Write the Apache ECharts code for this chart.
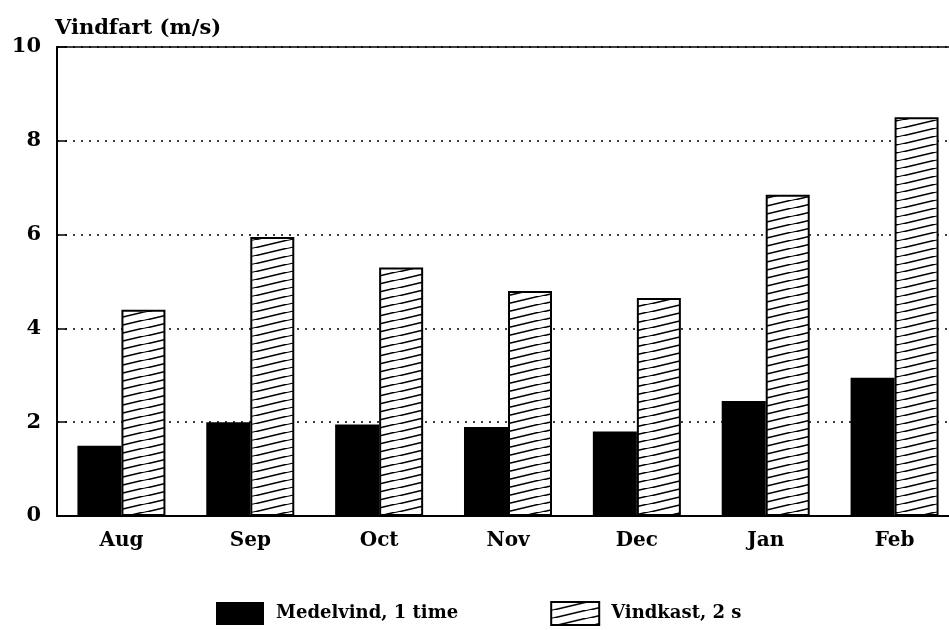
<!DOCTYPE html>
<html>
<head>
<meta charset="utf-8">
<script src="https://cdn.jsdelivr.net/npm/echarts@6/dist/echarts.min.js"></script>
<style>
  html, body { margin: 0; padding: 0; background: #fff; }
  #main { width: 949px; height: 630px; }
</style>
</head>
<body>
<div id="main"></div>
<script>
// data
var months = ['Aug', 'Sep', 'Oct', 'Nov', 'Dec', 'Jan', 'Feb'];
var medelvind = [1.5, 2.0, 1.95, 1.9, 1.8, 2.45, 2.95];
var vindkast = [4.4, 5.95, 5.3, 4.8, 4.65, 6.85, 8.5];
var yTicks = [0, 2, 4, 6, 8, 10];

var font = 'DejaVu Serif';

// hatch pattern: thin rising diagonal lines on white
function makeHatch() {
    var w = 36, h = 8.5;
    var c = document.createElement('canvas');
    c.width = w;
    c.height = h;
    var ctx = c.getContext('2d');
    ctx.fillStyle = '#fff';
    ctx.fillRect(0, 0, w, h);
    ctx.strokeStyle = '#000';
    ctx.lineWidth = 1.6;
    for (var k = -1; k <= 1; k++) {
        ctx.beginPath();
        ctx.moveTo(-w, 2 * h + k * h);
        ctx.lineTo(2 * w, -h + k * h);
        ctx.stroke();
    }
    return c;
}

var chart = echarts.init(document.getElementById('main'));

var option = {
    animation: false,
    backgroundColor: '#fff',
    title: {
        text: 'Vindfart (m/s)',
        left: 50,
        top: 13,
        textStyle: { fontFamily: font, fontSize: 21, fontWeight: 'bold', color: '#000' }
    },
    grid: {
        left: 57,
        width: 902,
        top: 47,
        bottom: 114,
        outerBoundsMode: 'none',
        containLabel: false,
        show: true,
        borderColor: '#000',
        borderWidth: 1.5
    },
    legend: {
        top: 596,
        left: 211,
        itemWidth: 48,
        itemHeight: 23,
        itemGap: 92,
        icon: 'rect',
        textStyle: { fontFamily: font, fontSize: 18, fontWeight: 'bold', color: '#000', padding: [0, 0, 0, 7] },
        data: ['Medelvind, 1 time', 'Vindkast, 2 s']
    },
    xAxis: {
        type: 'category',
        data: months,
        axisLine: { lineStyle: { color: '#000', width: 2 } },
        axisTick: { show: false },
        axisLabel: { fontFamily: font, fontSize: 20, fontWeight: 'bold', color: '#000', margin: 15 }
    },
    yAxis: {
        type: 'value',
        min: yTicks[0],
        max: yTicks[yTicks.length - 1],
        interval: 2,
        axisLine: { show: true, lineStyle: { color: '#000', width: 2 } },
        axisTick: { show: true, inside: true, length: 10, lineStyle: { color: '#000', width: 1.5 } },
        splitLine: { show: true, lineStyle: { color: '#000', type: [2, 6], width: 1.5 } },
        axisLabel: { fontFamily: font, fontSize: 21, fontWeight: 'bold', color: '#000', margin: 16 }
    },
    series: [
        {
            name: 'Medelvind, 1 time',
            type: 'bar',
            data: medelvind,
            barGap: '0%',
            barCategoryGap: '31.7%',
            itemStyle: { color: '#000' }
        },
        {
            name: 'Vindkast, 2 s',
            type: 'bar',
            data: vindkast,
            itemStyle: {
                color: { image: makeHatch(), repeat: 'repeat' },
                borderColor: '#000',
                borderWidth: 2
            }
        }
    ]
};

chart.setOption(option);
</script>
</body>
</html>
